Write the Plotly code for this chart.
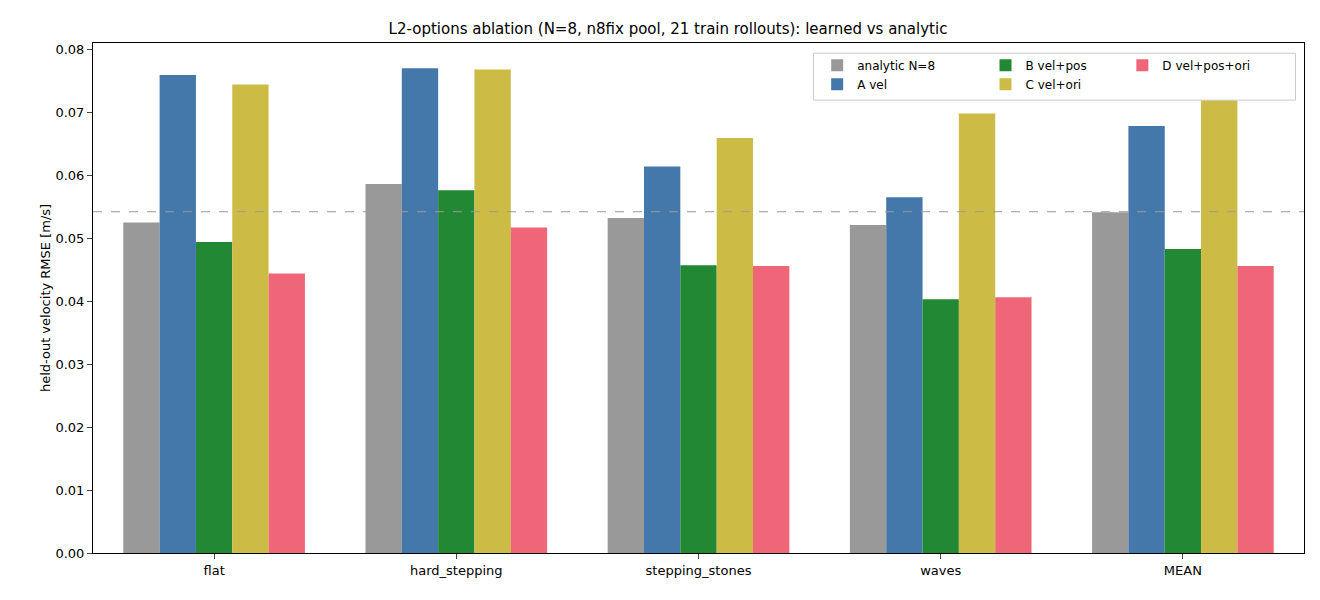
import plotly.graph_objects as go

categories = ["flat", "hard_stepping", "stepping_stones", "waves", "MEAN"]
analytic = [0.0525, 0.0586, 0.0532, 0.0521, 0.0541]
a_vel = [0.0759, 0.0770, 0.0614, 0.0565, 0.0678]
b_velpos = [0.0494, 0.0576, 0.0457, 0.0403, 0.0483]
c_velori = [0.0744, 0.0768, 0.0659, 0.0698, 0.0719]
d_all = [0.0444, 0.0517, 0.0456, 0.0406, 0.0456]
ref_line = 0.0542

series = [
    ("analytic N=8", analytic, "#999999", "legend"),
    ("A vel", a_vel, "#4477AA", "legend"),
    ("B vel+pos", b_velpos, "#228833", "legend2"),
    ("C vel+ori", c_velori, "#CCBB44", "legend2"),
    ("D vel+pos+ori", d_all, "#EE6677", "legend3"),
]

fig = go.Figure()
for name, vals, color, lg in series:
    fig.add_trace(go.Bar(x=categories, y=vals, name=name, marker_color=color,
                         marker_line_width=0, legend=lg))

legend_style = dict(bgcolor="rgba(0,0,0,0)", font=dict(size=12), yanchor="top",
                    y=0.985, xanchor="left", tracegroupgap=0, itemwidth=30)
fig.update_layout(
    template="none",
    width=1320, height=600,
    paper_bgcolor="white", plot_bgcolor="white",
    font=dict(family="DejaVu Sans", size=13, color="black"),
    title=dict(text="L2-options ablation (N=8, n8fix pool, 21 train rollouts): learned vs analytic",
               x=0.5, xanchor="center", y=0.975, font=dict(size=15)),
    margin=dict(l=85, r=24, t=35, b=55),
    barmode="group", bargap=0.25, bargroupgap=0,
    showlegend=True,
    legend=dict(x=0.598, **legend_style),
    legend2=dict(x=0.737, **legend_style),
    legend3=dict(x=0.85, **legend_style),
    shapes=[
        dict(type="line", xref="paper", yref="y", x0=0, x1=1, y0=ref_line, y1=ref_line,
             line=dict(color="#999999", width=1, dash="dash")),
        dict(type="rect", xref="paper", yref="paper", x0=0.595, x1=0.993,
             y0=0.888, y1=0.98, line=dict(color="#cccccc", width=1, dash="solid"),
             fillcolor="rgba(255,255,255,0.8)", layer="above"),
    ],
)
fig.update_xaxes(showline=True, linecolor="black", mirror=True, ticks="outside",
                 showgrid=False, tickfont=dict(size=13))
fig.update_yaxes(range=[0, 0.081], dtick=0.01, tickformat=".2f", showline=True,
                 linecolor="black", mirror=True, ticks="outside", showgrid=False,
                 zeroline=False, tickfont=dict(size=13),
                 title=dict(text="held-out velocity RMSE [m/s]", font=dict(size=13)))

fig.write_html("out.html")
